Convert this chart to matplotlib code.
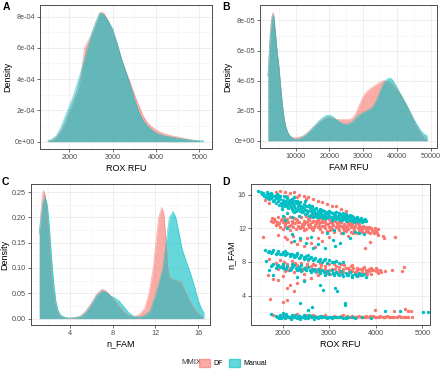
import matplotlib
matplotlib.use("Agg")
from matplotlib import pyplot as plt
from matplotlib.patches import Patch
from matplotlib.ticker import FuncFormatter, AutoMinorLocator

plt.rcParams['font.family'] = ['Liberation Sans', 'DejaVu Sans']

RED = '#F8766D'
CYAN = '#00BFC4'
groups = ['DF', 'Manual']

# --- panel A: density of ROX RFU (values in 1e-4) ---
a_df_x = [1500, 1600, 1700, 1800, 1900, 2000, 2100, 2200, 2250, 2300, 2350, 2400, 2500, 2600, 2700,
          2750, 2800, 2900, 3000, 3100, 3200, 3300, 3400, 3500, 3600, 3700, 3800, 3900, 4000, 4100,
          4200, 4300, 4400, 4500, 4600, 4700, 4800, 4900, 5000]
a_df_y = [0.05, 0.12, 0.3, 0.65, 1.2, 1.9, 2.6, 3.3, 3.9, 5.0, 6.0, 6.3, 6.8, 7.5, 8.2,
          8.3, 8.2, 7.7, 7.0, 6.2, 5.3, 4.5, 3.8, 3.0, 2.3, 1.65, 1.2, 0.95, 0.75, 0.6,
          0.5, 0.42, 0.35, 0.3, 0.24, 0.18, 0.12, 0.07, 0.04]
a_man_x = [1500, 1600, 1700, 1800, 1900, 2000, 2100, 2200, 2300, 2400, 2500, 2600, 2700, 2800,
           2900, 3000, 3100, 3200, 3300, 3400, 3500, 3600, 3700, 3800, 3900, 4000, 4100, 4200,
           4300, 4400, 4500, 4600, 4700, 4800, 4900, 5000, 5100]
a_man_y = [0.05, 0.15, 0.4, 0.9, 1.6, 2.3, 3.0, 3.9, 4.8, 5.8, 6.8, 7.6, 8.25, 8.1,
           7.7, 7.2, 6.3, 5.3, 4.5, 3.6, 2.7, 1.9, 1.35, 1.0, 0.75, 0.55, 0.45, 0.37,
           0.32, 0.27, 0.22, 0.18, 0.14, 0.11, 0.09, 0.07, 0.06]

# --- panel B: density of FAM RFU (values in 1e-5) ---
b_x = [1740, 2000, 2440, 2840, 3230, 3500, 4000, 4500, 5000, 5500, 6000, 6500, 7000, 7500,
       8000, 8700, 9500, 10000, 11000, 12000, 13000, 14000, 15000, 16000, 17000, 18000,
       19000, 20000, 21000, 22000, 23000, 24000, 25000, 26000, 27000, 28000, 29000, 30000,
       31000, 32000, 33000, 34000, 35000, 36000, 37000, 37800, 38500, 39000, 40000, 41000,
       42000, 43000, 44000, 45000, 46000, 47000, 48000, 49000]
b_df_y = [4.3, 5.3, 7.2, 8.2, 8.52, 8.35, 7.1, 5.9, 4.9, 3.6, 2.4, 1.5, 0.95, 0.6,
          0.4, 0.25, 0.2, 0.2, 0.25, 0.3, 0.45, 0.65, 0.85, 1.05, 1.25, 1.42,
          1.52, 1.55, 1.5, 1.42, 1.4, 1.4, 1.4, 1.42, 1.55, 1.9, 2.45, 2.95,
          3.25, 3.45, 3.6, 3.75, 3.88, 4.0, 3.98, 3.9, 3.8, 3.65, 3.4, 3.1,
          2.7, 2.25, 1.8, 1.3, 0.85, 0.5, 0.2, 0.08]
b_man_y = [4.3, 5.2, 7.0, 8.0, 8.37, 8.25, 7.1, 5.9, 4.95, 3.7, 2.5, 1.6, 1.0, 0.65,
           0.4, 0.22, 0.12, 0.1, 0.15, 0.25, 0.4, 0.6, 0.85, 1.1, 1.35, 1.55,
           1.68, 1.7, 1.6, 1.42, 1.25, 1.12, 1.08, 1.15, 1.3, 1.55, 1.75, 1.88,
           1.98, 2.1, 2.3, 2.7, 3.25, 3.8, 4.1, 4.18, 4.1, 3.95, 3.55, 3.15,
           2.75, 2.35, 1.9, 1.45, 1.05, 0.7, 0.45, 0.32]

# --- panel C: density of n_FAM ---
c_df_x = [1.15, 1.3, 1.45, 1.55, 1.7, 1.85, 2.0, 2.2, 2.4, 2.6, 2.8, 3.0, 3.5, 4.0, 4.5, 5.0,
          5.5, 6.0, 6.5, 7.0, 7.3, 7.6, 8.0, 8.5, 9.0, 9.5, 10.0, 10.5, 11.0, 11.4, 11.8,
          12.0, 12.3, 12.6, 12.8, 13.0, 13.15, 13.3, 13.8, 14.4, 14.85, 15.2, 15.6, 16.0, 16.4]
c_df_y = [0.166, 0.21, 0.245, 0.253, 0.245, 0.215, 0.17, 0.11, 0.06, 0.03, 0.014, 0.007,
          0.002, 0.001, 0.002, 0.005, 0.015, 0.03, 0.048, 0.058, 0.056, 0.05, 0.04, 0.027,
          0.014, 0.006, 0.004, 0.008, 0.02, 0.05, 0.1, 0.14, 0.2, 0.22, 0.205, 0.15, 0.1,
          0.082, 0.076, 0.072, 0.05, 0.035, 0.02, 0.01, 0.004]
c_man_x = [1.15, 1.3, 1.5, 1.7, 1.9, 2.1, 2.3, 2.5, 2.7, 2.9, 3.2, 3.6, 4.0, 4.5, 5.0, 5.5,
           6.0, 6.5, 7.0, 7.4, 7.8, 8.2, 8.6, 9.0, 9.5, 10.0, 10.5, 11.0, 11.5, 12.0, 12.4,
           12.7, 13.0, 13.3, 13.65, 13.9, 14.2, 14.5, 14.85, 15.3, 15.7, 16.0, 16.3, 16.55]
c_man_y = [0.17, 0.195, 0.23, 0.241, 0.225, 0.18, 0.12, 0.07, 0.035, 0.016, 0.006, 0.002,
           0.001, 0.002, 0.004, 0.012, 0.027, 0.045, 0.055, 0.052, 0.045, 0.041, 0.035,
           0.025, 0.012, 0.004, 0.003, 0.006, 0.015, 0.045, 0.075, 0.1, 0.15, 0.2, 0.212,
           0.2, 0.17, 0.137, 0.115, 0.088, 0.06, 0.036, 0.02, 0.01]

# --- panel D: n_FAM vs ROX RFU ---
d_df = [
    # upper band
    (1760, 12.9), (1800, 12.7), (1820, 13.1), (1870, 12.8), (1900, 13.3), (1930, 12.6), (1960, 13.0),
    (2000, 12.8), (2030, 13.4), (2060, 12.5), (2090, 13.1), (2120, 12.7), (2150, 13.3), (2180, 12.4),
    (2210, 12.9), (2240, 13.2), (2270, 12.6), (2300, 13.0), (2330, 12.3), (2360, 12.8), (2390, 13.3),
    (2420, 12.5), (2450, 12.9), (1950, 12.2), (2000, 11.9), (2080, 12.1), (2150, 11.8), (2220, 12.2),
    (2290, 11.9), (2350, 12.1), (2440, 12.2), (2480, 12.7), (2510, 11.9), (2540, 12.4), (2570, 13.0),
    (2600, 12.2), (2630, 12.7), (2660, 11.8), (2690, 12.4), (2720, 12.9), (2750, 12.1), (2780, 12.6),
    (2810, 11.9), (2840, 12.3), (2870, 12.8), (2900, 12.0), (2930, 12.5), (2960, 11.7), (2990, 12.2),
    (3020, 12.7), (3050, 11.9), (3080, 12.4), (3110, 11.6), (3140, 12.1), (3170, 12.6), (3200, 11.8),
    (3230, 12.3), (3260, 11.5), (3290, 12.0), (3320, 12.5), (3350, 11.7), (3380, 12.2), (3410, 11.9),
    (3440, 12.4), (3470, 11.6), (3500, 12.1), (3530, 11.8), (3560, 12.3), (3590, 11.5), (3620, 12.0),
    (3650, 11.7), (3680, 12.2), (3710, 11.9), (3740, 11.5), (3770, 12.0), (3800, 11.7), (3840, 11.9),
    (3880, 11.5), (3920, 11.8), (3960, 11.4), (4000, 11.7), (4040, 11.9), (2500, 13.5), (2600, 13.3),
    (2700, 13.6), (2800, 13.2), (2900, 13.4), (3000, 13.1), (3100, 13.3), (3200, 12.9), (3300, 13.1),
    (3400, 12.8), (3500, 12.7), (3600, 12.6), (2550, 13.1), (2650, 13.8), (2750, 13.0), (2850, 12.9),
    (1850, 12.4), (2050, 12.3), (2250, 12.6), (2450, 11.8), (2650, 12.9), (2850, 11.6), (3050, 12.9),
    (3250, 12.8), (3450, 12.6), (3650, 12.5), (3850, 12.2), (3350, 12.9),
    (1780, 13.2), (1840, 12.9), (1910, 12.5), (1990, 13.1), (2070, 12.8), (2130, 12.3), (2200, 12.8),
    (2280, 13.1), (2320, 12.7), (2400, 12.2), (2460, 12.5), (2530, 12.8), (2590, 12.5), (2620, 11.9),
    (2680, 12.1), (2710, 12.6), (2770, 12.3), (2820, 12.7), (2880, 12.3), (2920, 12.9), (2970, 12.5),
    (3030, 12.2), (3070, 12.6), (3120, 12.9), (3160, 12.3), (3210, 12.6), (3270, 12.3), (3310, 11.8),
    (3340, 12.3), (3400, 12.5), (3460, 12.1), (3490, 12.5), (3540, 12.1), (3580, 12.6), (3630, 12.3),
    (3690, 11.9), (3730, 12.3), (3790, 12.2), (3830, 11.6), (3900, 12.0), (3940, 11.7), (3990, 12.0),
    (4020, 11.5), (3010, 11.8), (3190, 12.0), (3360, 12.0), (3520, 11.5), (3700, 11.6), (2380, 12.0),
    (2560, 12.1),
    # on top of the cyan band
    (1750, 16.0), (1850, 16.3), (1950, 16.4), (2050, 16.3), (2150, 16.2), (2250, 16.3), (2350, 16.0),
    (2450, 15.9), (2550, 15.7), (2650, 15.5), (2750, 15.3), (2850, 15.1), (2950, 14.9), (3050, 14.7),
    (3150, 14.6), (3250, 14.3), (3350, 14.1), (2100, 15.9), (2300, 15.7), (2500, 15.5), (2200, 15.5),
    (1900, 15.8), (1620, 15.4), (1700, 15.0),
    # gap
    (1580, 11.0), (1900, 11.2), (2050, 11.0), (2100, 10.7), (2180, 10.4), (2230, 11.1), (2300, 10.1),
    (2380, 10.6), (2450, 9.9), (2520, 10.8), (2600, 10.3), (2700, 9.8), (2750, 10.9), (2850, 10.5),
    (3000, 11.0), (3400, 11.1), (3767, 9.7), (3875, 10.4), (4050, 11.2), (4155, 11.1), (4170, 10.9),
    (4410, 11.0),
    # middle band
    (1850, 7.9), (1900, 7.2), (1950, 8.2), (2000, 7.5), (2050, 6.9), (2100, 7.8), (2150, 7.3),
    (2200, 8.1), (2250, 6.8), (2300, 7.6), (2350, 7.1), (2400, 7.9), (2450, 6.6), (2500, 7.4),
    (2550, 8.2), (2600, 6.9), (2650, 7.7), (2700, 7.2), (2750, 6.5), (2800, 7.9), (2850, 7.0),
    (2900, 7.5), (2950, 6.7), (3000, 7.8), (3050, 7.2), (3100, 6.6), (3150, 7.5), (3200, 7.0),
    (3250, 7.8), (3300, 6.8), (3350, 7.3), (3400, 6.6), (3450, 7.1), (3500, 7.6), (3550, 6.8),
    (3600, 7.3), (3650, 6.5), (3700, 7.0), (3750, 7.4), (3800, 6.8), (3850, 7.2), (3900, 6.6),
    (3950, 7.0), (4000, 7.3), (4050, 6.7), (4100, 7.1), (4200, 6.9), (4341, 7.1), (4555, 6.9),
    (4600, 7.4), (2200, 7.4), (2400, 7.2), (2600, 7.5), (2800, 7.3), (3000, 7.0), (3200, 7.4),
    (3400, 7.3), (3600, 7.0), (3800, 7.1), (3500, 6.9), (3300, 7.2), (2900, 6.8), (2700, 7.6),
    (3100, 7.7), (3700, 6.7), (3900, 7.3), (4000, 6.9),
    (2020, 8.0), (2120, 7.0), (2270, 7.9), (2420, 7.0), (2520, 7.8), (2620, 7.2), (2720, 6.8),
    (2820, 7.6), (2920, 7.2), (3020, 6.6), (3120, 7.2), (3220, 6.8), (3320, 7.6), (3420, 6.9),
    (3520, 7.3), (3620, 6.7), (3720, 7.3), (3820, 6.6), (3920, 7.0), (4020, 7.1), (4120, 6.8),
    (3460, 7.5), (3660, 7.2), (3860, 6.9),
    (1690, 6.5), (1700, 8.3), (1800, 6.0), (1900, 5.9), (2000, 6.3), (2150, 5.2), (2300, 5.5),
    (2450, 5.9), (2600, 6.1), (1730, 3.6), (2014, 3.2), (2250, 4.6), (2100, 4.9), (2086, 3.5),
    # lower band
    (1800, 1.7), (1900, 1.5), (2000, 1.7), (2100, 1.4), (2200, 1.6), (2300, 1.8), (2400, 1.5),
    (2500, 1.7), (2600, 1.4), (2700, 1.6), (2800, 1.5), (2900, 1.7), (3000, 1.4), (3100, 1.6),
    (3200, 1.5), (3300, 1.7), (3400, 1.4), (3500, 1.6), (3600, 1.5), (3700, 1.4), (3800, 1.6),
    (3900, 1.5), (4000, 1.4), (4100, 1.6), (4200, 1.5), (4300, 1.4), (4400, 1.5), (4500, 1.6),
    (4600, 1.4), (4700, 1.5), (4780, 1.4), (3050, 1.5), (3150, 1.4), (3250, 1.6), (3350, 1.5),
    (3450, 1.5), (3550, 1.4), (3650, 1.6), (3750, 1.5), (3850, 1.4), (3950, 1.6), (4050, 1.5),
    (4150, 1.4), (4250, 1.6), (2650, 1.7), (2750, 1.4), (2850, 1.6), (2950, 1.5),
    (1950, 1.6), (2050, 1.5), (2150, 1.5), (2250, 1.5), (2350, 1.6), (2450, 1.6), (2550, 1.5),
    (3180, 1.5), (3280, 1.4), (3380, 1.6), (3480, 1.5), (3580, 1.5), (3680, 1.5), (3780, 1.4),
    (3880, 1.6), (3980, 1.5), (4080, 1.4), (4180, 1.5), (4280, 1.5), (4350, 1.4), (4450, 1.5),
    (4550, 1.4), (4650, 1.5),
    (3982, 2.3), (4390, 2.2), (4626, 2.4), (4690, 2.2), (4755, 2.2),
]
d_man = [
    # upper band
    (1480, 16.4), (1530, 16.3), (1580, 16.2), (1620, 16.0), (1660, 16.3), (1700, 15.8), (1720, 16.1),
    (1760, 15.6), (1780, 16.0), (1820, 15.4), (1840, 15.8), (1870, 16.1), (1890, 15.2), (1910, 15.6),
    (1940, 15.9), (1960, 15.0), (1980, 14.6), (2000, 15.4), (2020, 15.8), (2050, 14.9), (2070, 15.2),
    (2100, 15.6), (2120, 14.4), (2150, 14.8), (2170, 15.1), (2200, 15.5), (2230, 14.1), (2250, 14.6),
    (2280, 15.0), (2300, 15.3), (2330, 14.3), (2350, 14.8), (2380, 15.1), (2410, 13.9), (2430, 14.5),
    (2460, 14.9), (2490, 13.7), (2510, 14.2), (2540, 14.7), (2570, 13.5), (2600, 14.0), (2620, 14.5),
    (2650, 13.4), (2680, 13.9), (2700, 14.3), (2730, 13.6), (2760, 14.1), (2790, 13.3), (2820, 13.8),
    (2850, 14.2), (2880, 13.5), (2910, 13.9), (2940, 13.2), (2970, 13.7), (3000, 14.0), (3030, 13.3),
    (3060, 13.8), (3090, 13.1), (3120, 13.6), (3150, 13.9), (3180, 13.2), (3210, 13.6), (3240, 13.0),
    (3270, 13.5), (3300, 13.8), (3330, 13.1), (3360, 13.4), (3390, 12.9), (3420, 13.3), (3450, 13.6),
    (3480, 13.0), (3510, 13.3), (3540, 12.8), (3570, 13.2), (3600, 13.4), (3640, 12.9), (3680, 13.2),
    (3720, 13.0), (3760, 13.1), (3800, 12.9), (1600, 15.9), (1680, 16.1), (1750, 16.2), (1800, 15.9),
    (1850, 15.6), (1900, 16.0), (1950, 15.5), (2030, 15.1), (2080, 15.7), (2130, 15.3), (2180, 14.5),
    (2220, 14.9), (2260, 15.2), (2320, 14.6), (2370, 14.0), (2400, 14.7), (2450, 14.3), (2500, 14.6),
    (2550, 14.0), (2580, 14.4), (2630, 13.7), (2660, 14.2), (2710, 13.8), (2740, 13.4), (2800, 14.0),
    (2830, 13.5), (2870, 13.2), (2900, 13.7), (2950, 13.9), (3000, 13.5), (3050, 13.0), (3100, 13.5),
    (3160, 13.3), (3200, 13.8), (3260, 13.2), (3320, 13.6), (3380, 13.2), (3440, 13.0), (3500, 13.5),
    (3560, 13.0), (3620, 13.1), (3700, 12.8), (2000, 13.5), (2050, 13.0), (2100, 13.8), (2200, 13.4),
    (2250, 13.9), (2350, 13.5),
    (1550, 16.1), (1640, 15.7), (1710, 15.5), (1790, 15.3), (1860, 15.0), (1930, 14.8), (1990, 14.3),
    (2060, 14.6), (2110, 15.0), (2160, 15.4), (2210, 14.3), (2240, 15.7), (2290, 14.1), (2340, 15.0),
    (2390, 14.4), (2440, 14.0), (2470, 15.2), (2520, 13.8), (2560, 14.8), (2610, 13.6), (2640, 14.7),
    (2690, 13.5), (2720, 14.4), (2770, 13.7), (2810, 14.3), (2860, 13.6), (2890, 14.1), (2930, 13.4),
    (2980, 13.3), (3020, 13.9), (3070, 13.4), (3110, 13.8), (3140, 13.1), (3190, 13.5), (3230, 13.7),
    (3280, 13.0), (3310, 13.4), (3350, 13.7), (3400, 13.5), (3460, 13.3), (3530, 13.1), (3590, 12.9),
    (3660, 13.0), (3740, 12.9), (1690, 15.6), (1770, 15.8), (1880, 15.8), (2010, 15.0), (2090, 14.7),
    (2190, 15.2), (2270, 14.4), (2360, 14.2),
    # gap
    (2100, 12.0), (2200, 11.3), (2250, 10.5), (2380, 10.9), (2500, 10.3), (2600, 11.0), (2650, 9.7),
    (2750, 10.1), (2900, 9.6), (3080, 10.6), (3230, 10.2), (3122, 9.9), (3300, 11.4), (3450, 10.9),
    (3550, 11.6), (3650, 11.5), (3750, 11.3), (3100, 11.8), (2950, 11.5),
    # middle bands
    (1620, 9.45), (1700, 9.3), (1750, 9.1), (1800, 9.4), (1850, 9.0), (1900, 9.3), (1950, 8.9),
    (2000, 9.2), (2050, 8.8), (2100, 9.1), (2150, 8.7), (2200, 9.0), (2250, 8.6), (2300, 8.9),
    (2350, 8.5), (2400, 8.8), (2450, 8.4), (2500, 8.7), (2550, 8.3), (2600, 8.6), (2650, 8.2),
    (2700, 8.5), (2750, 8.1), (2800, 8.4), (2850, 8.0), (2900, 8.3), (2950, 7.9), (3000, 8.2),
    (3100, 8.0), (3200, 7.9), (3300, 8.0), (2050, 9.3), (2300, 9.1), (2550, 8.8), (2250, 8.8),
    (2150, 9.0), (2450, 8.6),
    (1680, 9.2), (1780, 9.2), (1880, 9.1), (1980, 9.0), (2080, 8.9), (2180, 8.8), (2280, 8.7),
    (2380, 8.6), (2480, 8.5), (2580, 8.5), (2680, 8.3), (2780, 8.2), (2880, 8.2), (3050, 8.0),
    (3150, 8.1),
    (1750, 7.5), (1800, 7.8), (1850, 7.3), (1900, 7.6), (1950, 7.4), (2000, 7.7), (2050, 7.2),
    (2100, 7.5), (2150, 7.0), (2200, 7.4), (2250, 7.6), (2300, 7.1), (2350, 7.4), (2400, 6.9),
    (2450, 7.3), (2500, 7.0), (2550, 7.4), (2600, 6.8), (2650, 7.2), (2700, 6.9), (2750, 7.2),
    (2800, 6.7), (2850, 7.1), (2900, 6.5), (2950, 6.9), (3000, 6.6), (3050, 7.0), (3100, 6.4),
    (3150, 6.8), (3200, 6.5), (3250, 6.9), (3300, 6.3), (3350, 6.7), (3400, 6.4), (3450, 6.8),
    (3500, 6.2), (3550, 6.6), (3600, 6.3), (3650, 6.7), (3700, 6.4), (3750, 6.6), (3800, 6.2),
    (2000, 7.3), (2200, 7.8), (2400, 7.6), (2600, 7.1),
    (1780, 7.6), (1880, 7.5), (1980, 7.5), (2080, 7.3), (2180, 7.2), (2280, 7.3), (2380, 7.2),
    (2480, 7.2), (2580, 7.0), (2680, 7.0), (2780, 6.9), (2880, 6.8), (2980, 6.8), (3080, 6.7),
    (3180, 6.6), (3280, 6.6), (3380, 6.5), (3480, 6.5), (3580, 6.4), (3680, 6.5),
    (1650, 8.1), (1700, 7.0), (1800, 6.4), (2300, 6.2), (2450, 5.7), (2800, 5.3), (2870, 4.7),
    (3120, 4.9), (3160, 4.5), (2372, 3.1), (2623, 2.7), (3337, 3.1), (3337, 2.9), (2543, 2.3),
    # lower band
    (1850, 1.6), (1900, 1.4), (1950, 1.7), (2000, 1.5), (2050, 1.3), (2100, 1.6), (2150, 1.4),
    (2200, 1.7), (2250, 1.5), (2300, 1.3), (2350, 1.6), (2400, 1.4), (2450, 1.7), (2500, 1.5),
    (2550, 1.3), (2600, 1.6), (2650, 1.4), (2700, 1.5), (2750, 1.3), (2800, 1.6), (2850, 1.4),
    (2900, 1.5), (2950, 1.3), (3000, 1.5), (3050, 1.3), (3100, 1.5), (3200, 1.4), (3300, 1.3),
    (3400, 1.4), (3550, 1.3), (3700, 1.4), (3900, 1.3), (1975, 1.3), (2075, 1.8), (2175, 1.2),
    (2275, 1.7), (2375, 1.2), (2475, 1.3), (2575, 1.7), (2675, 1.2), (2775, 1.5),
    (1880, 1.5), (1930, 1.3), (2030, 1.6), (2130, 1.5), (2230, 1.4), (2330, 1.5), (2430, 1.5),
    (2530, 1.5), (2630, 1.5), (2730, 1.4), (2830, 1.5), (2930, 1.4), (3030, 1.4), (3150, 1.4),
    (3250, 1.4), (3350, 1.3), (3480, 1.4),
    (1750, 1.8), (2000, 1.9), (4197, 2.2), (4519, 2.2), (5004, 2.1), (5120, 2.1),
]

W, H = 440, 370
fig = plt.figure(figsize=(W / 100, H / 100), dpi=100)


def px_axes(l, t, r, b):
    return fig.add_axes([l / W, 1 - b / H, (r - l) / W, (b - t) / H])


def style(ax):
    ax.set_facecolor('white')
    for s in ax.spines.values():
        s.set_color('#4d4d4d')
        s.set_linewidth(0.7)
    ax.xaxis.set_minor_locator(AutoMinorLocator(2))
    ax.yaxis.set_minor_locator(AutoMinorLocator(2))
    ax.grid(which='major', color='#ebebeb', lw=0.6)
    ax.grid(which='minor', color='#f2f2f2', lw=0.4)
    ax.set_axisbelow(True)
    ax.tick_params(which='major', length=2, width=0.5, color='#333333',
                   labelsize=5.2, labelcolor='#4d4d4d', pad=1.5)
    ax.tick_params(which='minor', length=0)


def dens(ax, x, y, color, scale=1.0):
    yy = [v * scale for v in y]
    ax.fill_between(x, 0, yy, color=color, alpha=0.6, lw=0)
    ax.plot(x, yy, color=color, alpha=0.6, lw=0.5)


axA = px_axes(40, 5, 212, 149)
axB = px_axes(260, 5, 437, 148)
axC = px_axes(31, 184, 210, 325)
axD = px_axes(251, 184, 430, 325)
for ax in (axA, axB, axC, axD):
    style(ax)

dens(axA, a_df_x, a_df_y, RED, 1e-4)
dens(axA, a_man_x, a_man_y, CYAN, 1e-4)
axA.set_xlim(1320, 5290)
axA.set_ylim(-0.47e-4, 8.74e-4)
axA.set_xticks([2000, 3000, 4000, 5000])
axA.set_yticks([0, 2e-4, 4e-4, 6e-4, 8e-4])
axA.yaxis.set_major_formatter(FuncFormatter(lambda v, p: f"{v:.0e}"))
axA.set_xlabel('ROX RFU', fontsize=6.5, labelpad=2)
axA.set_ylabel('Density', fontsize=6.5, labelpad=2)

dens(axB, b_x, b_df_y, RED, 1e-5)
dens(axB, b_x, b_man_y, CYAN, 1e-5)
axB.set_xlim(-600, 51900)
axB.set_ylim(-0.48e-5, 9.03e-5)
axB.set_xticks([10000, 20000, 30000, 40000, 50000])
axB.set_yticks([0, 2e-5, 4e-5, 6e-5, 8e-5])
axB.yaxis.set_major_formatter(FuncFormatter(lambda v, p: f"{v:.0e}"))
axB.set_xlabel('FAM RFU', fontsize=6.5, labelpad=2)
axB.set_ylabel('Density', fontsize=6.5, labelpad=2)

dens(axC, c_df_x, c_df_y, RED)
dens(axC, c_man_x, c_man_y, CYAN)
axC.set_xlim(0.38, 17.1)
axC.set_ylim(-0.0127, 0.266)
axC.set_xticks([4, 8, 12, 16])
axC.set_yticks([0, 0.05, 0.10, 0.15, 0.20, 0.25])
axC.yaxis.set_major_formatter(FuncFormatter(lambda v, p: f"{v:.2f}"))
axC.set_xlabel('n_FAM', fontsize=6.5, labelpad=2)
axC.set_ylabel('Density', fontsize=6.5, labelpad=2)

for pts, color in ((d_df, RED), (d_man, CYAN)):
    xs = [p[0] for p in pts]
    ys = [p[1] for p in pts]
    axD.scatter(xs, ys, s=6, color=color, lw=0)
axD.set_xlim(1320, 5165)
axD.set_ylim(0.5, 17.27)
axD.set_xticks([2000, 3000, 4000, 5000])
axD.set_yticks([4, 8, 12, 16])
axD.set_xlabel('ROX RFU', fontsize=6.5, labelpad=2)
axD.set_ylabel('n_FAM', fontsize=6.5, labelpad=2)

for lab, x, y in (('A', 3, 2), ('B', 222, 2), ('C', 2, 177), ('D', 222, 177)):
    fig.text(x / W, 1 - y / H, lab, fontsize=7.5, fontweight='bold', va='top', ha='left')

fig.text(181 / W, 1 - 363 / H, 'MMIX', fontsize=5.5, color='#333333', va='center', ha='left')
handles = [Patch(facecolor=RED, alpha=0.6, edgecolor=RED), Patch(facecolor=CYAN, alpha=0.6, edgecolor=CYAN)]
fig.legend(handles, groups, loc='center left', bbox_to_anchor=(199 / W, 1 - 363 / H), ncol=2,
           frameon=False, fontsize=5, handlelength=1.6, handleheight=1.6, handletextpad=0.5,
           columnspacing=0.8, borderpad=0, borderaxespad=0)

fig.savefig('out.png', dpi=100, facecolor='white')
